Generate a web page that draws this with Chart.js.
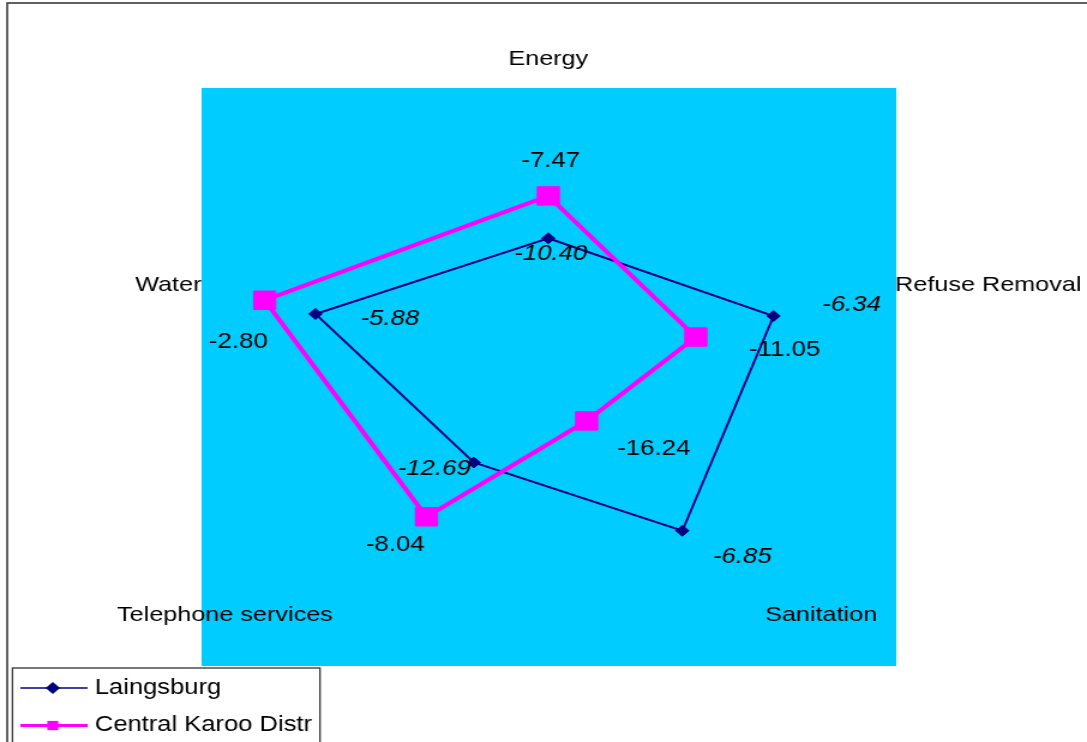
<!DOCTYPE html>
<html>
<head>
<meta charset="utf-8">
<title>Laingsburg vs Central Karoo District</title>
<script src="https://cdn.jsdelivr.net/npm/chart.js@4/dist/chart.umd.min.js"></script>
<style>
  html, body { margin: 0; padding: 0; background: #ffffff; overflow: hidden; }
  canvas { display: block; }
</style>
</head>
<body>
<!-- drawn at 906px wide and shown at 1087px, giving the wide Excel-style look -->
<canvas id="chart" width="906" height="742" style="width:1087px;height:742px"></canvas>
<script>
// ---- data ----
const categories = ['Energy', 'Refuse Removal', 'Sanitation', 'Telephone services', 'Water'];
const seriesNames = ['Laingsburg', 'Central Karoo Distr'];
const laingsburg = [-10.40, -6.34, -6.85, -12.69, -5.88];
const centralKaroo = [-7.47, -11.05, -16.24, -8.04, -2.80];
const radialMin = -20;
const radialMax = 0;

const FONT = '"Liberation Sans", Arial, Helvetica, sans-serif';
const NAVY = '#000080';
const MAGENTA = '#ff00ff';

// cyan plot square, white page and the outer frame
const plotBackdrop = {
  id: 'plotBackdrop',
  beforeDraw(chart, args, opts) {
    const ctx = chart.ctx;
    const r = chart.scales.r;
    const d = r.drawingArea;
    ctx.save();
    ctx.fillStyle = '#ffffff';
    ctx.fillRect(0, 0, chart.width, chart.height);
    ctx.fillStyle = opts.color;
    ctx.fillRect(r.xCenter - d, r.yCenter - d, 2 * d + 1, 2 * d);
    ctx.strokeStyle = '#3a3a3a';
    ctx.lineWidth = 1.6;
    ctx.strokeRect(6, 3, chart.width + 40, chart.height + 40);
    ctx.restore();
  }
};

// category names at the end of each spoke
const axisTitles = {
  id: 'axisTitles',
  afterDatasetsDraw(chart, args, opts) {
    const ctx = chart.ctx;
    const r = chart.scales.r;
    ctx.save();
    ctx.font = opts.size + 'px ' + FONT;
    ctx.fillStyle = '#000';
    ctx.textBaseline = 'middle';
    chart.data.labels.forEach((label, i) => {
      const p = r.getPointPosition(i, r.drawingArea + opts.padding);
      const c = Math.cos(p.angle);
      ctx.textAlign = Math.abs(c) < 0.1 ? 'center' : (c > 0 ? 'left' : 'right');
      const s = opts.shift[i];
      ctx.fillText(label, p.x + s[0], p.y + s[1]);
    });
    ctx.restore();
  }
};

// value labels beside each point
const valueLabels = {
  id: 'valueLabels',
  afterDatasetsDraw(chart, args, opts) {
    const ctx = chart.ctx;
    ctx.save();
    ctx.fillStyle = '#000';
    ctx.textAlign = 'center';
    ctx.textBaseline = 'middle';
    chart.data.datasets.forEach((ds, di) => {
      const meta = chart.getDatasetMeta(di);
      const st = opts.styles[di];
      ctx.font = (st.italic ? 'italic ' : '') + opts.size + 'px ' + FONT;
      meta.data.forEach((pt, i) => {
        const off = st.offsets[i];
        ctx.fillText(ds.data[i].toFixed(2), pt.x + off[0], pt.y + off[1]);
      });
    });
    ctx.restore();
  }
};

function drawMarker(ctx, style, x, y, size, color) {
  ctx.fillStyle = color;
  ctx.beginPath();
  if (style === 'rectRot') {
    ctx.moveTo(x - size, y);
    ctx.lineTo(x, y - size);
    ctx.lineTo(x + size, y);
    ctx.lineTo(x, y + size);
    ctx.closePath();
  } else {
    ctx.rect(x - size, y - size, 2 * size, 2 * size);
  }
  ctx.fill();
}

// boxed key with line-and-marker samples
const seriesKey = {
  id: 'seriesKey',
  afterDraw(chart, args, opts) {
    const ctx = chart.ctx;
    ctx.save();
    ctx.strokeStyle = '#333';
    ctx.lineWidth = 1.3;
    ctx.strokeRect(opts.left, opts.top, opts.width, 300);
    ctx.font = opts.size + 'px ' + FONT;
    ctx.textAlign = 'left';
    ctx.textBaseline = 'middle';
    chart.data.datasets.forEach((ds, i) => {
      const y = opts.top + opts.firstRow + i * opts.rowGap;
      ctx.strokeStyle = ds.borderColor;
      ctx.lineWidth = opts.lineWidths[i];
      ctx.beginPath();
      ctx.moveTo(opts.sampleX0, y);
      ctx.lineTo(opts.sampleX1, y);
      ctx.stroke();
      drawMarker(ctx, ds.pointStyle, opts.markerX, y, opts.markerSize[i], ds.pointBackgroundColor);
      ctx.fillStyle = '#000';
      ctx.fillText(ds.label, opts.textX, y);
    });
    ctx.restore();
  }
};

new Chart(document.getElementById('chart'), {
  type: 'radar',
  data: {
    labels: categories,
    datasets: [
      {
        label: seriesNames[0],
        data: laingsburg,
        order: 1,
        borderColor: NAVY,
        borderWidth: 2,
        backgroundColor: 'transparent',
        fill: false,
        pointStyle: 'rectRot',
        pointRadius: 5.5,
        pointBorderWidth: 1,
        pointBackgroundColor: NAVY,
        pointBorderColor: NAVY,
        tension: 0
      },
      {
        label: seriesNames[1],
        data: centralKaroo,
        order: 0,
        borderColor: MAGENTA,
        borderWidth: 4,
        backgroundColor: 'transparent',
        fill: false,
        pointStyle: 'rect',
        pointRadius: 13,
        pointBorderWidth: 1,
        pointBackgroundColor: MAGENTA,
        pointBorderColor: MAGENTA,
        tension: 0
      }
    ]
  },
  options: {
    responsive: false,
    animation: false,
    events: [],
    layout: { padding: { top: 88, bottom: 76, left: 9, right: 0 } },
    scales: {
      r: {
        min: radialMin,
        max: radialMax,
        ticks: { display: false },
        grid: { display: false },
        angleLines: { display: false },
        pointLabels: { display: false }
      }
    },
    plugins: {
      legend: { display: false },
      tooltip: { enabled: false },
      plotBackdrop: { color: '#00ccff' },
      axisTitles: {
        size: 21,
        padding: 15,
        shift: [[0, -14], [0, 2], [2, -8], [-1, -8], [0, 2]]
      },
      valueLabels: {
        size: 21.5,
        styles: [
          { italic: true, offsets: [[2, 16], [65, -11], [50, 26], [-33, 7], [62, 5]] },
          { italic: false, offsets: [[2, -35], [74, 13], [56, 28], [-26, 28], [-22, 42]] }
        ]
      },
      seriesKey: {
        left: 10.4, top: 668, width: 256.3, size: 21.3,
        firstRow: 20, rowGap: 37.5,
        sampleX0: 17, sampleX1: 73, markerX: 44, textX: 79,
        lineWidths: [1.3, 3], markerSize: [6, 4.6]
      }
    }
  },
  plugins: [plotBackdrop, axisTitles, valueLabels, seriesKey]
});
</script>
</body>
</html>
